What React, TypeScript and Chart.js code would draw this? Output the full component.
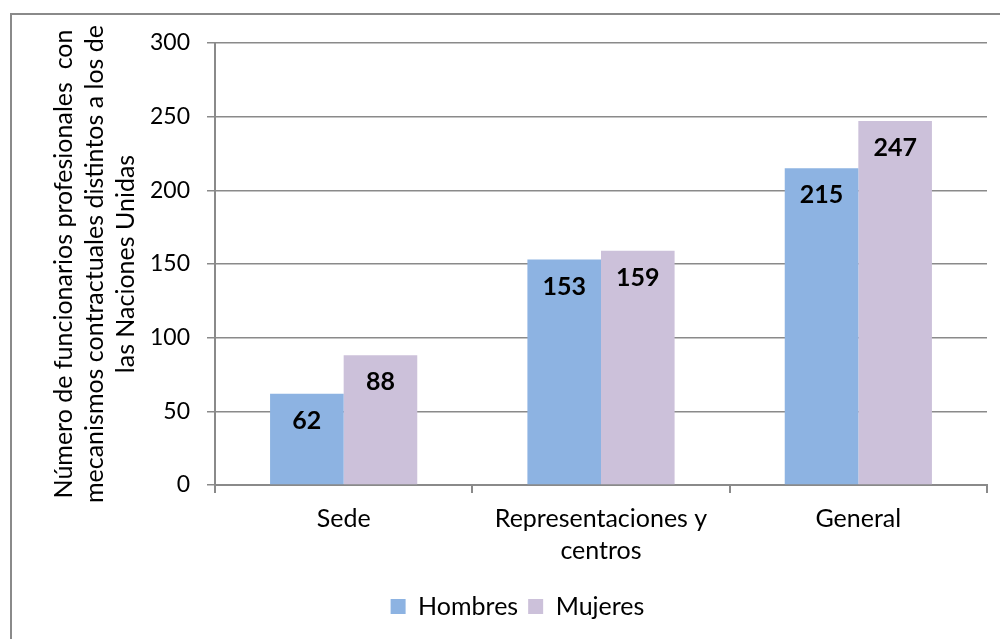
import React, { useEffect, useRef } from "react";
import { Chart, registerables } from "chart.js";

Chart.register(...registerables);

const categories: (string | string[])[] = ["Sede", ["Representaciones y", "centros"], "General"];
const hombres: number[] = [62, 153, 215];
const mujeres: number[] = [88, 159, 247];
const seriesNames: string[] = ["Hombres", "Mujeres"];
const yTitle: string[] = [
  "Número de funcionarios profesionales  con",
  "mecanismos contractuales distintos a los de",
  "las Naciones Unidas",
];

const FONT = "Lato, 'Open Sans', sans-serif";
const GRID = "#8a8a8a";

const labelPlugin = {
  id: "barLabels",
  afterDatasetsDraw(chart: any) {
    const ctx = chart.ctx;
    ctx.save();
    ctx.font = `bold 25px ${FONT}`;
    ctx.fillStyle = "#000";
    ctx.textAlign = "center";
    ctx.textBaseline = "middle";
    chart.data.datasets.forEach((ds: any, i: number) => {
      const meta = chart.getDatasetMeta(i);
      meta.data.forEach((bar: any, j: number) => {
        ctx.fillText(String(ds.data[j]), bar.x, bar.y + 27);
      });
    });
    ctx.restore();
  },
};

export default function App() {
  const ref = useRef<HTMLCanvasElement | null>(null);
  useEffect(() => {
    if (!ref.current) return;
    const chart = new Chart(ref.current, {
      type: "bar",
      data: {
        labels: categories,
        datasets: [
          { label: seriesNames[0], data: hombres, backgroundColor: "#8DB3E2" },
          { label: seriesNames[1], data: mujeres, backgroundColor: "#CCC1DA" },
        ],
      },
      options: {
        responsive: false,
        animation: false,
        layout: { padding: { left: 48, right: 13, top: 43, bottom: 10 } },
        datasets: { bar: { categoryPercentage: 0.572, barPercentage: 1 } } as any,
        plugins: {
          legend: {
            position: "bottom",
            labels: {
              font: { family: FONT, size: 25 },
              color: "#000",
              boxWidth: 15,
              boxHeight: 15,
              padding: 10,
            },
          },
          tooltip: { enabled: false },
        },
        scales: {
          x: {
            afterFit: (scale: any) => {
              scale.height += 7;
            },
            grid: { drawOnChartArea: false, drawTicks: true, tickLength: 8, color: GRID, lineWidth: 2, offset: true },
            border: { display: true, color: GRID, width: 2 },
            ticks: { font: { family: FONT, size: 25, lineHeight: 1.28 }, color: "#000", padding: 10, maxRotation: 0 },
          },
          y: {
            min: 0,
            max: 300,
            afterFit: (scale: any) => {
              scale.width = 167;
            },
            ticks: { stepSize: 50, font: { family: FONT, size: 23 }, color: "#000", padding: 17 },
            grid: { color: GRID, lineWidth: 1.5, tickLength: 8 },
            border: { display: true, color: GRID, width: 2 },
            title: {
              display: true,
              text: yTitle,
              font: { family: FONT, size: 25, lineHeight: 1.25 },
              color: "#000",
              padding: { top: 0, bottom: 0 },
            },
          },
        },
      },
      plugins: [labelPlugin],
    });
    return () => chart.destroy();
  }, []);
  return (
    <div style={{ position: "fixed", left: 0, top: 0, width: 1000, height: 639, overflow: "hidden", background: "#fff" }}>
      <div style={{ position: "absolute", left: 10, top: 13, width: 1000, height: 700, border: "2px solid #8a8a8a", boxSizing: "border-box" }} />
      <canvas ref={ref} width={1000} height={639} style={{ position: "absolute", left: 0, top: 0 }} />
    </div>
  );
}
